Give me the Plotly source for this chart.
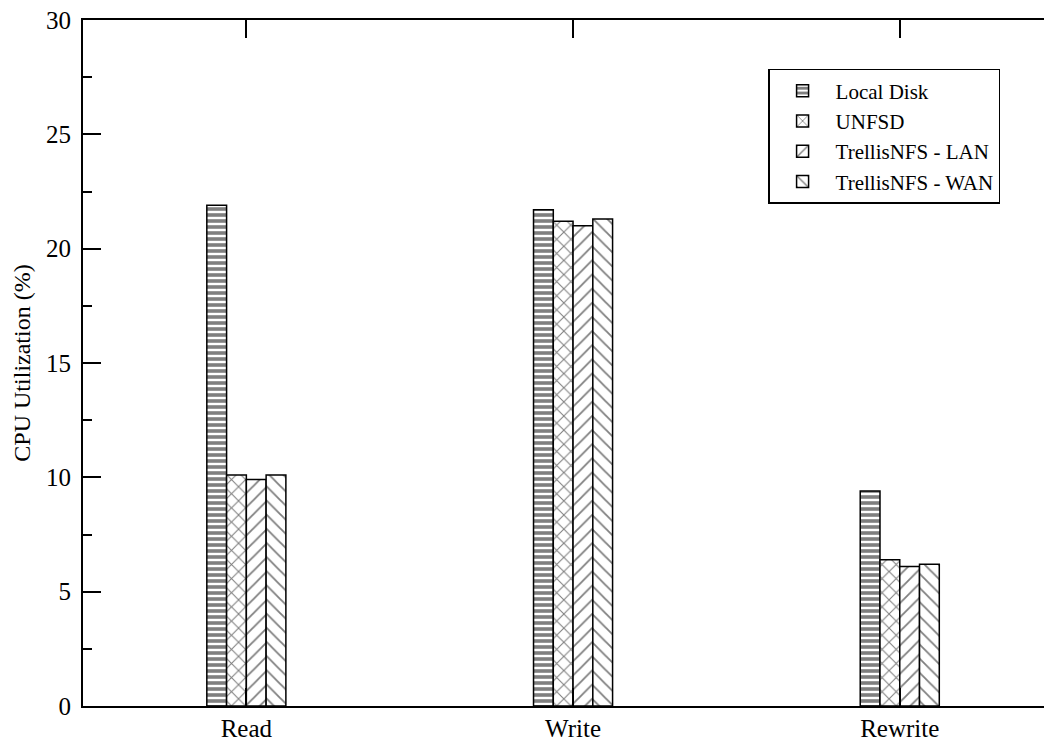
import plotly.graph_objects as go

categories = ["Read", "Write", "Rewrite"]
series_names = ["Local Disk", "UNFSD", "TrellisNFS - LAN", "TrellisNFS - WAN"]
local_disk = [21.9, 21.7, 9.4]
unfsd = [10.1, 21.2, 6.4]
trellis_lan = [9.9, 21.0, 6.1]
trellis_wan = [10.1, 21.3, 6.2]
y_ticks = [0, 5, 10, 15, 20, 25, 30]

series_values = [local_disk, unfsd, trellis_lan, trellis_wan]
patterns = [
    dict(shape="-", size=6, solidity=0.6, fgcolor="black", bgcolor="white"),
    dict(shape="x", size=10, solidity=0.2, fgcolor="black", bgcolor="white"),
    dict(shape="/", size=10, solidity=0.18, fgcolor="black", bgcolor="white"),
    dict(shape="\\", size=10, solidity=0.18, fgcolor="black", bgcolor="white"),
]

FONT = "Liberation Serif"

fig = go.Figure()
for name, vals, pat in zip(series_names, series_values, patterns):
    fig.add_trace(go.Bar(
        name=name, x=categories, y=vals,
        marker=dict(color="white", pattern=pat, line=dict(color="black", width=1.5)),
    ))

# page body has an 8px margin, so the figure is sized/offset to compensate
fig.update_layout(
    width=1044, height=734,
    margin=dict(l=75, r=0, t=12, b=36),
    paper_bgcolor="white", plot_bgcolor="white",
    barmode="group", bargap=0.758, bargroupgap=0,
    font=dict(family=FONT, color="black", size=21),
    showlegend=True,
    legend=dict(
        x=0.707, y=0.9286, xanchor="left", yanchor="top",
        bordercolor="black", borderwidth=1.5, bgcolor="white",
        font=dict(family=FONT, size=21, color="black"), itemwidth=56,
        entrywidth=285, entrywidthmode="pixels",
        traceorder="normal",
    ),
    xaxis=dict(
        type="category", categoryorder="array", categoryarray=categories,
        range=[-0.5, 2.466],
        showline=True, linecolor="black", linewidth=2, mirror="ticks",
        ticks="inside", ticklen=18, tickwidth=2, tickcolor="black",
        showgrid=False, zeroline=False,
        tickfont=dict(family=FONT, size=25, color="black"),
        ticklabelstandoff=-1, ticklabeloverflow="allow",
    ),
    yaxis=dict(
        range=[0, 30], tickvals=y_ticks,
        showline=True, linecolor="black", linewidth=2, mirror=False,
        ticks="inside", ticklen=18, tickwidth=2, tickcolor="black",
        minor=dict(dtick=2.5, ticks="inside", ticklen=9, tickwidth=2, tickcolor="black", showgrid=False),
        showgrid=False, zeroline=False,
        tickfont=dict(family=FONT, size=25, color="black"),
        ticklabelstandoff=5, ticklabeloverflow="allow",
        title=dict(text="CPU Utilization (%)", font=dict(family=FONT, size=24, color="black"), standoff=9),
    ),
    yaxis2=dict(
        overlaying="y", side="right", matches="y", range=[0, 30], tickvals=y_ticks,
        showline=False, ticks="inside", ticklen=9, tickwidth=2, tickcolor="black",
        showticklabels=False, showgrid=False, zeroline=False,
    ),
)

fig.write_html("out.html")
